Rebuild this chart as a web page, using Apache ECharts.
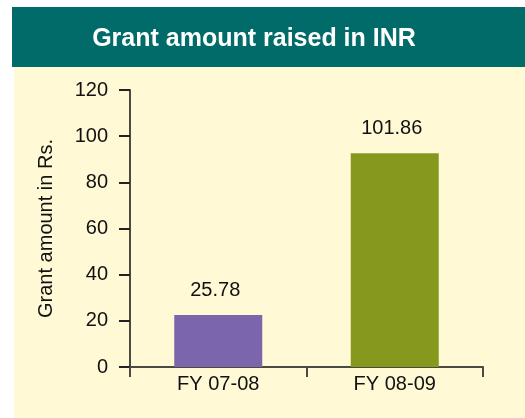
<!DOCTYPE html>
<html>
<head>
<meta charset="utf-8">
<script src="https://cdn.jsdelivr.net/npm/echarts@6/dist/echarts.min.js"></script>
<style>
  html, body { margin: 0; padding: 0; background: #fff; }
  #chart { width: 525px; height: 418px; }
</style>
</head>
<body>
<div id="chart"></div>
<script>
// chart data
const titleText = 'Grant amount raised in INR';
const yAxisName = 'Grant amount in Rs.';
const categories = ['FY 07-08', 'FY 08-09'];
// bar heights as drawn in the picture
const barValues = [22.5, 92.6];
// value labels printed over the bars
const barLabels = ['25.78', '101.86'];
const barColors = ['#7b66ab', '#87991d'];
const yTicks = [0, 20, 40, 60, 80, 100, 120];

const FONT = '"Liberation Sans", Arial, sans-serif';
const AXIS_COLOR = '#4b4a40';

const chart = echarts.init(document.getElementById('chart'), null, { renderer: 'canvas' });

const option = {
  animation: false,
  backgroundColor: '#ffffff',
  textStyle: { fontFamily: FONT },
  graphic: [
    { type: 'rect', z: -10, shape: { x: 12, y: 7, width: 513, height: 60 }, style: { fill: '#006b68' } },
    { type: 'rect', z: -10, shape: { x: 14, y: 67, width: 511, height: 351 }, style: { fill: '#fff9d5' } }
  ],
  title: {
    text: titleText,
    left: 249,
    top: 22,
    textAlign: 'center',
    textStyle: { color: '#ffffff', fontSize: 25, fontWeight: 'bold', fontFamily: FONT }
  },
  grid: { left: 130, right: 42, top: 90, bottom: 51, containLabel: false },
  xAxis: {
    type: 'category',
    data: categories,
    axisLine: { lineStyle: { color: AXIS_COLOR, width: 2 } },
    axisTick: { show: true, length: 10, lineStyle: { color: AXIS_COLOR, width: 2 } },
    axisLabel: { color: '#111', fontSize: 20, margin: 7, fontFamily: FONT }
  },
  yAxis: {
    type: 'value',
    min: yTicks[0],
    max: yTicks[yTicks.length - 1],
    interval: yTicks[1] - yTicks[0],
    name: yAxisName,
    nameLocation: 'middle',
    nameGap: 74,
    nameTextStyle: { color: '#111', fontSize: 20, fontFamily: FONT },
    splitLine: { show: false },
    axisLine: { show: true, lineStyle: { color: AXIS_COLOR, width: 2 } },
    axisTick: { show: true, length: 11, lineStyle: { color: '#222', width: 2 } },
    axisLabel: { color: '#111', fontSize: 20, margin: 22, fontFamily: FONT }
  },
  series: [{
    type: 'bar',
    barWidth: 88,
    data: barValues.map((v, i) => ({ value: v, itemStyle: { color: barColors[i] } })),
    label: {
      show: true,
      position: 'top',
      distance: 15,
      offset: [-3, 0],
      color: '#111',
      fontSize: 20,
      fontFamily: FONT,
      formatter: p => barLabels[p.dataIndex]
    }
  }]
};

chart.setOption(option);
</script>
</body>
</html>
